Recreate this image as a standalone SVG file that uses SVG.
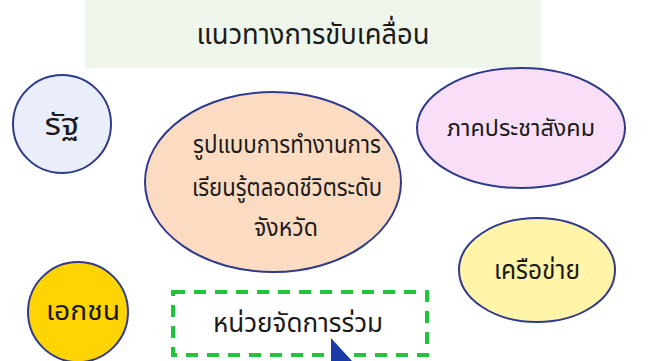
<svg xmlns="http://www.w3.org/2000/svg" width="654" height="361" viewBox="0 0 654 361">
<style>
.t{font-family:"Noto Sans Thai","Noto Sans Thai Looped","Noto Sans","DejaVu Sans",sans-serif;fill:#1a1a1a;text-anchor:middle;dominant-baseline:central}
.n{stroke:#2f3a8a;stroke-width:2}
</style>
<rect width="654" height="361" fill="#ffffff"/>
<g id="title">
<rect x="85" y="0" width="456" height="68" fill="#eef5ea"/>
<text class="t" x="313" y="35" font-size="28" textLength="233" lengthAdjust="spacingAndGlyphs">แนวทางการขับเคลื่อน</text>
</g>
<g id="connectors"></g>
<g id="state">
<circle class="n" cx="62" cy="124" r="49" fill="#e9eefa"/>
<text class="t" x="62" y="126" font-size="30" textLength="35" lengthAdjust="spacingAndGlyphs">รัฐ</text>
</g>
<g id="model">
<ellipse class="n" cx="273" cy="182" rx="128" ry="90" fill="#fbdcc2"/>
<text class="t" x="287" y="145" font-size="25" textLength="188" lengthAdjust="spacingAndGlyphs">รูปแบบการทำงานการ</text>
<text class="t" x="287" y="188" font-size="25" textLength="190" lengthAdjust="spacingAndGlyphs">เรียนรู้ตลอดชีวิตระดับ</text>
<text class="t" x="286" y="228" font-size="25" textLength="64" lengthAdjust="spacingAndGlyphs">จังหวัด</text>
</g>
<g id="civil">
<ellipse class="n" cx="521" cy="128" rx="104" ry="60" fill="#f9def8"/>
<text class="t" x="521" y="129" font-size="23" textLength="148" lengthAdjust="spacingAndGlyphs">ภาคประชาสังคม</text>
</g>
<g id="network">
<ellipse class="n" cx="537" cy="270" rx="78" ry="52" fill="#fff4a8"/>
<text class="t" x="537" y="271" font-size="26" textLength="86" lengthAdjust="spacingAndGlyphs">เครือข่าย</text>
</g>
<g id="private">
<circle class="n" cx="78" cy="312" r="50" fill="#ffd400"/>
<text class="t" x="83" y="312" font-size="26" textLength="74" lengthAdjust="spacingAndGlyphs">เอกชน</text>
</g>
<g id="joint">
<rect x="173" y="292" width="254" height="63" fill="none" stroke="#1fc43a" stroke-width="4" stroke-dasharray="12 9"/>
<text class="t" x="298" y="324" font-size="26" textLength="170" lengthAdjust="spacingAndGlyphs">หน่วยจัดการร่วม</text>
</g>
<polygon points="331,338 331,361 352,361" fill="#1b3aa8"/>
</svg>
